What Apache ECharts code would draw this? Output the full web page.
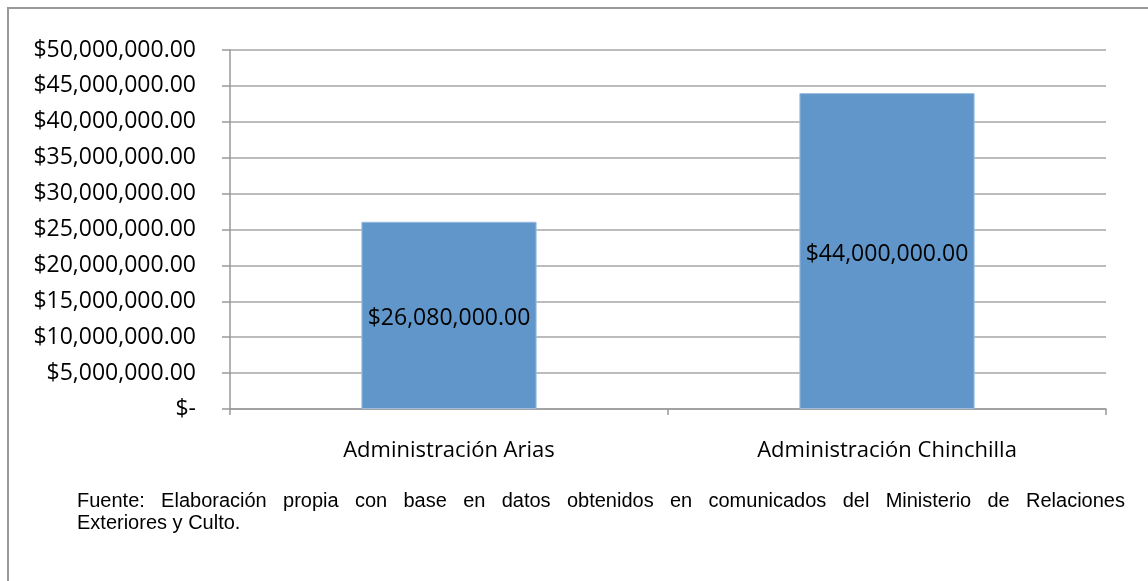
<!DOCTYPE html>
<html>
<head>
<meta charset="utf-8">
<script src="https://cdn.jsdelivr.net/npm/echarts@6/dist/echarts.min.js"></script>
<style>
  html, body { margin: 0; padding: 0; background: #fff; }
  #wrap { position: relative; width: 1148px; height: 581px; overflow: hidden; }
  #chart { position: absolute; left: 0; top: 0; width: 1148px; height: 581px; }
  .note {
    position: absolute; left: 77px; width: 1048px;
    font-family: "Liberation Sans", Arial, sans-serif; font-size: 20px; line-height: 22px;
    color: #000; white-space: nowrap;
  }
  #note1 { top: 489px; text-align: justify; text-align-last: justify; }
  #note2 { top: 511px; }
</style>
</head>
<body>
<div id="wrap">
  <div id="chart"></div>
  <div class="note" id="note1">Fuente: Elaboración propia con base en datos obtenidos en comunicados del Ministerio de Relaciones</div>
  <div class="note" id="note2">Exteriores y Culto.</div>
</div>
<script>
  // datos del gráfico
  var categories = ['Administración Arias', 'Administración Chinchilla'];
  var montos = [26080000, 44000000];
  var yMin = 0, yMax = 50000000, yStep = 5000000;

  function dinero(v) {
    if (v === 0) return '$-';
    return '$' + v.toLocaleString('en-US', { minimumFractionDigits: 2, maximumFractionDigits: 2 });
  }

  var font = '"Open Sans", "Noto Sans", sans-serif';
  var chart = echarts.init(document.getElementById('chart'));
  chart.setOption({
    animation: false,
    graphic: [{
      type: 'rect',
      shape: { x: 8, y: 8, width: 1400, height: 800 },
      style: { fill: 'none', stroke: '#999', lineWidth: 2 }
    }],
    grid: { left: 230, right: 42, top: 50, bottom: 172 },
    xAxis: {
      type: 'category',
      data: categories,
      axisLine: { lineStyle: { color: '#999', width: 1.5 } },
      axisTick: { show: true, length: 6, lineStyle: { color: '#999', width: 1.5 } },
      axisLabel: { color: '#000', fontFamily: font, fontSize: 22, margin: 31 }
    },
    yAxis: {
      type: 'value',
      min: yMin, max: yMax, interval: yStep,
      axisLine: { show: true, lineStyle: { color: '#999', width: 1.5 } },
      axisTick: { show: true, length: 8, lineStyle: { color: '#999', width: 1.5 } },
      splitLine: { lineStyle: { color: '#a6a6a6', width: 1.5 } },
      axisLabel: { color: '#000', fontFamily: font, fontSize: 23, margin: 34, formatter: dinero }
    },
    series: [{
      type: 'bar',
      data: montos,
      barWidth: '40%',
      itemStyle: { color: '#6196ca', borderColor: '#9dbde0', borderWidth: 1 },
      label: {
        show: true, position: 'inside', color: '#000',
        fontFamily: font, fontSize: 23, offset: [0, 3],
        formatter: function (p) { return dinero(p.value); }
      }
    }]
  });
</script>
</body>
</html>
